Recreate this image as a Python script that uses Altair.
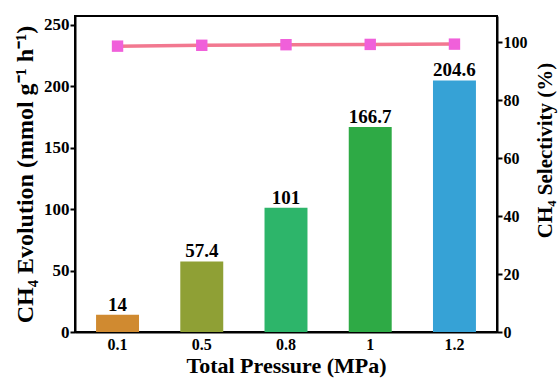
import altair as alt
import pandas as pd

pressure = ["0.1", "0.5", "0.8", "1", "1.2"]
evolution = [14, 57.4, 101, 166.7, 204.6]
selectivity = [98.6, 98.9, 99.1, 99.2, 99.3]
bar_colors = ["#D08A30", "#8FA035", "#2DB56A", "#2EAA45", "#36A2D6"]

df = pd.DataFrame({
    "p": pressure,
    "ev": evolution,
    "sel": selectivity,
    "label": ["14", "57.4", "101", "166.7", "204.6"],
})

FONT = "Liberation Serif"

x_enc = alt.X("p:N", sort=pressure, scale=alt.Scale(paddingInner=0.49, paddingOuter=0.25),
              axis=alt.Axis(title="Total Pressure (MPa)", labelAngle=0, ticks=False,
                            labelFontSize=16, titleFontSize=22, labelPadding=4,
                            titlePadding=3, domainWidth=2, domainColor="black"))

y_left = alt.Y("ev:Q", scale=alt.Scale(domain=[0, 257], nice=False),
               axis=alt.Axis(title="CH₄ Evolution (mmol g⁻¹ h⁻¹)", values=[0, 50, 100, 150, 200, 250],
                             grid=False, labelFontSize=17, titleFontSize=24, tickSize=5,
                             tickWidth=2, domainWidth=2, titlePadding=6, labelPadding=1))

bars = alt.Chart(df).mark_bar().encode(
    x=x_enc,
    y=y_left,
    color=alt.Color("p:N", sort=pressure, scale=alt.Scale(domain=pressure, range=bar_colors), legend=None),
)

labels = alt.Chart(df).mark_text(dy=-10, fontSize=19, fontWeight="bold", font=FONT, color="black").encode(
    x=alt.X("p:N", sort=pressure),
    y=alt.Y("ev:Q", scale=alt.Scale(domain=[0, 257], nice=False)),
    text="label:N",
)

left = alt.layer(bars, labels)

y_right = alt.Y("sel:Q", scale=alt.Scale(domain=[0, 109], nice=False),
                axis=alt.Axis(title="CH₄ Selectivity (%)", orient="right", values=[0, 20, 40, 60, 80, 100],
                              grid=False, labelFontSize=16, titleFontSize=21, tickSize=5,
                              tickWidth=2, domainWidth=2, titlePadding=7, labelPadding=1,
                              titleAngle=270, titleBaseline="top", titleY=134))

line = alt.Chart(df).mark_line(color="#F27890", strokeWidth=3.5).encode(
    x=alt.X("p:N", sort=pressure),
    y=y_right,
)
pts = alt.Chart(df).mark_square(color="#F060DA", size=130, opacity=1).encode(
    x=alt.X("p:N", sort=pressure),
    y=alt.Y("sel:Q", scale=alt.Scale(domain=[0, 109], nice=False)),
)
right = alt.layer(line, pts)

chart = alt.layer(left, right).resolve_scale(y="independent").properties(
    width=422, height=316,
    autosize=alt.AutoSizeParams(type="none"),
    padding={"left": 75, "top": 16, "right": 61, "bottom": 48},
    background="white",
).configure_view(stroke="black", strokeWidth=2).configure_axis(
    labelFont=FONT, titleFont=FONT, labelFontWeight="bold", titleFontWeight="bold",
    labelColor="black", titleColor="black", domainColor="black", tickColor="black",
)

chart.save("out.html", embed_options={"renderer": "svg", "actions": False})
